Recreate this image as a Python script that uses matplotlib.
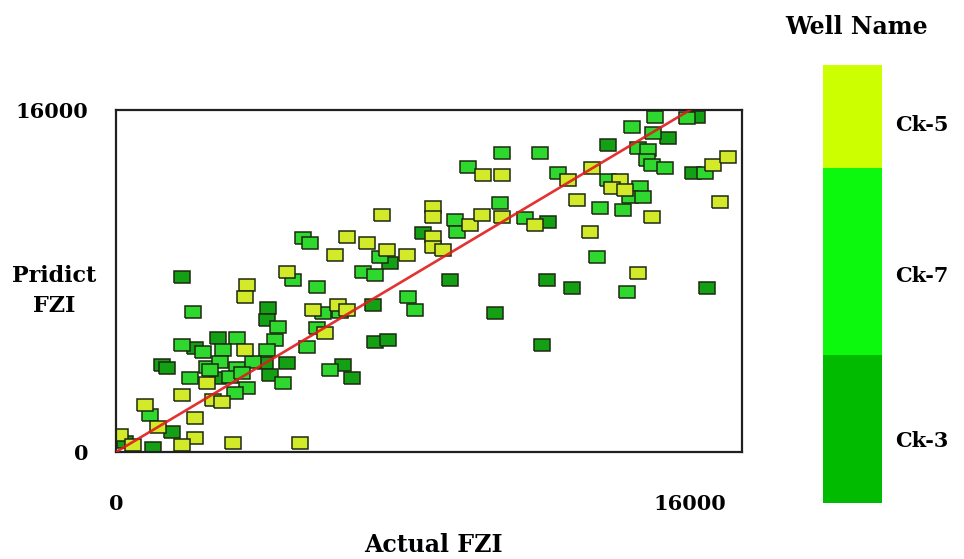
#!/usr/bin/env python3
"""Actual vs predicted FZI scatter, coloured by well, with a block legend."""
import matplotlib
matplotlib.use("Agg")
import matplotlib.pyplot as plt

plt.rcParams["font.family"] = ["DejaVu Serif"]
plt.rcParams["font.weight"] = "bold"

# values (FZI units)
ck3_actual = [16192, 15384, 13712, 12040, 8556, 9309, 12012, 12709, 16471, 10563,
              11873, 1839, 7636, 4236, 4208, 7163, 7218, 7581, 2202, 2843,
              1282, 1421, 4153, 4766, 2843, 4292, 6326, 6577, 1561, 1031,
              251, 16081]
ck3_pred = [15671, 14689, 14361, 10759, 10245, 8046, 8046, 7672, 7672, 6502,
            5005, 8187, 8841, 6736, 6175, 6877, 5146, 5239, 4865, 5333,
            4070, 3930, 4163, 4163, 3462, 3602, 4070, 3462, 936, 187,
            468, 13052]

ck7_actual = [15022, 15914, 14381, 14966, 14548, 14827, 10758, 11817, 9810, 12319,
              14799, 14938, 15301, 16415, 13712, 14604, 14325, 14687, 14130, 13489,
              9448, 9504, 10702, 11399, 13405, 14242, 8138, 8333, 5212, 5407,
              7358, 4933, 5602, 6884, 7218, 2146, 4515, 4431, 5769, 6243,
              5602, 5323, 1839, 2425, 3372, 2982, 4208, 2536, 2898, 3372,
              3818, 2062, 2620, 3177, 3512, 4654, 3651, 3317, 5964, 948]
ck7_pred = [15671, 15625, 15204, 14923, 14221, 14128, 13987, 13987, 13332, 13052,
            13660, 13426, 13286, 13052, 12724, 12397, 11929, 11929, 11321, 11414,
            10853, 10292, 11648, 10947, 9122, 7485, 7251, 6643, 10011, 9777,
            9122, 8046, 7719, 8420, 8280, 6549, 5848, 5239, 6502, 6549,
            5801, 4912, 5005, 4678, 5333, 4772, 4772, 3976, 4210, 3930,
            4210, 3462, 3836, 3509, 3696, 3228, 2994, 2760, 3836, 1731]

ck5_actual = [10228, 10758, 12597, 13266, 16638, 17056, 16833, 14046, 13824, 14186,
              12848, 14938, 8835, 8835, 9866, 10200, 10758, 11678, 8835, 8835,
              9113, 8110, 13210, 14548, 7413, 6438, 6995, 6104, 7553, 4766,
              3651, 3595, 5490, 6187, 6438, 5825, 3595, 1839, 2703, 2954,
              2536, 808, 2202, 1171, 111, 2202, 1839, 3261, 5128, 474]
ck5_pred = [12958, 12958, 12724, 13286, 13426, 13800, 11695, 12724, 12350, 12256,
            11789, 10993, 11461, 10993, 10619, 11087, 10993, 10619, 10058, 9590,
            9450, 9216, 10292, 8374, 11087, 10058, 9777, 9216, 9450, 8420,
            7812, 7251, 6643, 6877, 6643, 5567, 4772, 2666, 2433, 2339,
            3228, 2199, 1591, 1170, 795, 655, 327, 421, 421, 327]

wells = ["Ck-3", "Ck-7", "Ck-5"]
legend_share = [148, 187, 103]
point_colors = {"Ck-3": "#14a014", "Ck-7": "#2ed82e", "Ck-5": "#d2ea2a"}
legend_colors = {"Ck-3": "#00bb00", "Ck-7": "#0cf80c", "Ck-5": "#ccff00"}

axis_max = 16000

# slightly wide rectangle, like the stretched squares in the source
rect = [(-1.25, -1), (1.25, -1), (1.25, 1), (-1.25, 1), (-1.25, -1)]

fig = plt.figure(figsize=(9.64, 5.59), dpi=100)
ax = fig.add_axes([0.1203, 0.1914, 0.6494, 0.6118])

series = {
    "Ck-3": (ck3_actual, ck3_pred),
    "Ck-7": (ck7_actual, ck7_pred),
    "Ck-5": (ck5_actual, ck5_pred),
}
for name in wells:
    xs, ys = series[name]
    ax.scatter(xs, ys, marker=rect, s=120, c=point_colors[name],
               edgecolors="#1c2a10", linewidths=1.1, joinstyle="miter", zorder=2)

ax.plot([0, axis_max], [0, axis_max], color="#e01c1c", lw=1.9, alpha=0.9, zorder=3)

ax.set_xlim(0, 17450)
ax.set_ylim(0, axis_max)
ax.set_xticks([0, axis_max])
ax.set_yticks([0, axis_max])
ax.set_xticklabels(["0", "16000"])
ax.set_yticklabels(["0", "16000"])
ax.tick_params(length=0, labelsize=15, pad=20)
ax.tick_params(axis="x", pad=30)
for sp in ax.spines.values():
    sp.set_linewidth(1.6)
    sp.set_color("#202020")

fig.text(0.056, 0.479, "Pridict\nFZI", ha="center", va="center", fontsize=16,
         fontweight="bold", linespacing=1.45)
fig.text(0.450, 0.004, "Actual FZI", ha="center", va="bottom", fontsize=17,
         fontweight="bold")

# block legend
lax = fig.add_axes([823 / 964, 1 - 503 / 559, 59 / 964, 438 / 559])
bottom = 0
centers = []
for name, h in zip(wells, legend_share):
    lax.bar(0, h, bottom=bottom, width=1, color=legend_colors[name], edgecolor="none")
    centers.append(bottom + h * 0.42)
    bottom += h
lax.set_xlim(-0.5, 0.5)
lax.set_ylim(0, bottom)
lax.axis("off")
for name, c in zip(wells, centers):
    lax.text(1.22, c, name, transform=lax.get_yaxis_transform(), ha="left",
             va="center", fontsize=15, fontweight="bold")
fig.text(0.889, 0.952, "Well Name", ha="center", va="center", fontsize=17,
         fontweight="bold")

fig.savefig("out.png", dpi=100)
